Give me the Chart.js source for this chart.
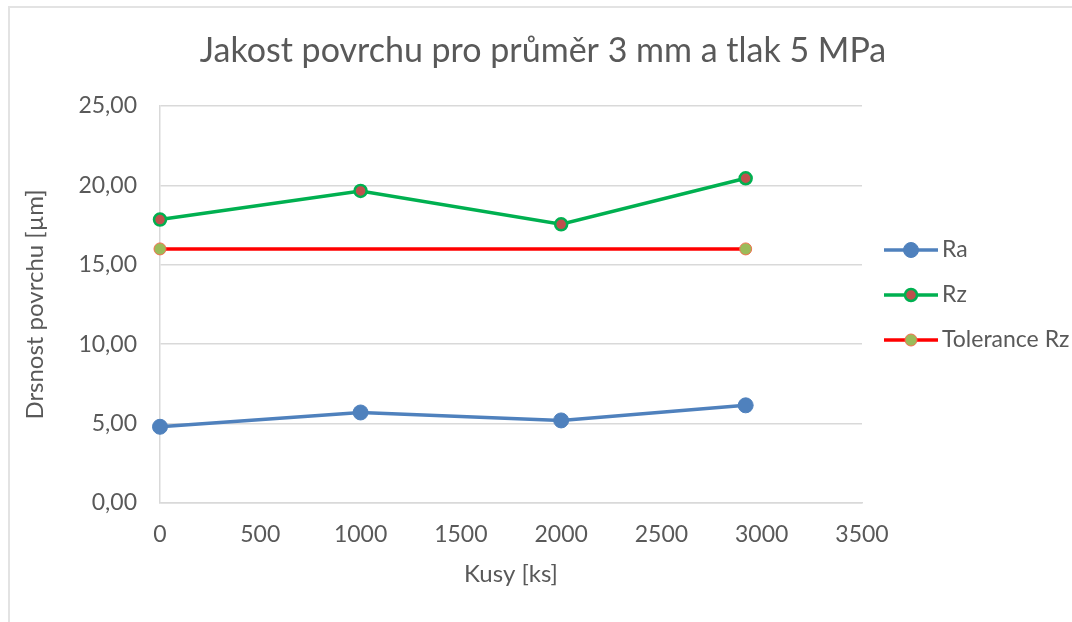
<!DOCTYPE html>
<html>
<head>
<meta charset="utf-8">
<script src="https://cdn.jsdelivr.net/npm/chart.js@4/dist/chart.umd.min.js"></script>
<style>
	html, body { margin: 0; padding: 0; background: #fff; }
	.frame { position: absolute; left: 8px; top: 6px; width: 1100px; height: 700px; border-left: 2px solid #e3e3e3; border-top: 2px solid #e3e3e3; }
	.wrap { position: absolute; left: 0; top: 0; width: 1072px; height: 622px; }
</style>
</head>
<body>
<div class="frame"></div>
<div class="wrap"><canvas id="chart" width="1072" height="622"></canvas></div>
<script>
var kusy = [0, 1000, 2000, 2920];
var ra = [4.80, 5.70, 5.20, 6.15];
var rz = [17.85, 19.65, 17.55, 20.45];
var toleranceKusy = [0, 2920];
var toleranceRz = [16.0, 16.0];
var xTicks = [0, 500, 1000, 1500, 2000, 2500, 3000, 3500];
var yTicks = [0, 5, 10, 15, 20, 25];

var textColor = '#595959';
var gridColor = '#d9d9d9';
var fontName = 'Lato, Calibri, "Open Sans", sans-serif';

function toPoints(xs, ys) {
	var pts = [];
	for (var i = 0; i < xs.length; i++) {
		pts.push({ x: xs[i], y: ys[i] });
	}
	return pts;
}

// title and legend drawn by hand, Excel style
var excelDecor = {
	id: 'excelDecor',
	afterDraw: function (chart) {
		var ctx = chart.ctx;
		ctx.save();
		ctx.fillStyle = textColor;
		ctx.font = '34px ' + fontName;
		ctx.textAlign = 'center';
		ctx.textBaseline = 'middle';
		ctx.fillText('Jakost povrchu pro průměr 3 mm a tlak 5 MPa', 543, 51);

		var rows = [250, 295, 340];
		ctx.font = '23px ' + fontName;
		ctx.textAlign = 'left';
		for (var i = 0; i < chart.data.datasets.length; i++) {
			var ds = chart.data.datasets[i];
			var y = rows[i];
			ctx.strokeStyle = ds.borderColor;
			ctx.lineWidth = 3.5;
			ctx.beginPath();
			ctx.moveTo(884, y);
			ctx.lineTo(938, y);
			ctx.stroke();
			ctx.beginPath();
			ctx.arc(911, y, ds.pointRadius, 0, Math.PI * 2);
			ctx.fillStyle = ds.pointBackgroundColor;
			ctx.fill();
			ctx.lineWidth = ds.pointBorderWidth;
			ctx.strokeStyle = ds.pointBorderColor;
			ctx.stroke();
			ctx.fillStyle = textColor;
			ctx.fillText(ds.label, 942, y);
		}
		ctx.restore();
	}
};

var ctx = document.getElementById('chart').getContext('2d');
var chart = new Chart(ctx, {
	type: 'scatter',
	data: {
		datasets: [{
			label: 'Ra',
			data: toPoints(kusy, ra),
			showLine: true,
			clip: false,
			borderColor: '#4f81bd',
			borderWidth: 3.5,
			pointRadius: 7.5,
			pointBackgroundColor: '#4f81bd',
			pointBorderColor: '#4f81bd',
			pointBorderWidth: 1
		}, {
			label: 'Rz',
			data: toPoints(kusy, rz),
			showLine: true,
			clip: false,
			borderColor: '#00b050',
			borderWidth: 3.5,
			pointRadius: 6,
			pointBackgroundColor: '#c0504d',
			pointBorderColor: '#00b050',
			pointBorderWidth: 2.5
		}, {
			label: 'Tolerance Rz',
			data: toPoints(toleranceKusy, toleranceRz),
			showLine: true,
			clip: false,
			borderColor: '#ff0000',
			borderWidth: 3.5,
			pointRadius: 6,
			pointBackgroundColor: '#9bbb59',
			pointBorderColor: '#f0704d',
			pointBorderWidth: 1
		}]
	},
	options: {
		responsive: false,
		animation: false,
		layout: { padding: { left: 0, top: 106, right: 210, bottom: 0 } },
		plugins: {
			legend: { display: false },
			title: { display: false },
			tooltip: { enabled: false }
		},
		scales: {
			x: {
				type: 'linear',
				min: 0,
				max: 3500,
				afterBuildTicks: function (axis) {
					axis.ticks = xTicks.map(function (v) { return { value: v }; });
				},
				afterFit: function (axis) { axis.height = 119; },
				grid: { display: false, drawTicks: false },
				border: { color: gridColor, width: 1.5 },
				ticks: {
					color: textColor,
					font: { family: fontName, size: 23 },
					padding: 18,
					maxRotation: 0,
					callback: function (v) { return String(v); }
				},
				title: {
					display: true,
					text: 'Kusy [ks]',
					color: textColor,
					font: { family: fontName, size: 24 },
					padding: { top: 0, bottom: 33 }
				}
			},
			y: {
				type: 'linear',
				min: 0,
				max: 25,
				afterBuildTicks: function (axis) {
					axis.ticks = yTicks.map(function (v) { return { value: v }; });
				},
				afterFit: function (axis) { axis.width = 160; },
				grid: { color: gridColor, lineWidth: 1.5, drawTicks: false },
				border: { color: gridColor, width: 1.5 },
				ticks: {
					color: textColor,
					font: { family: fontName, size: 23 },
					padding: 23,
					callback: function (v) { return v.toFixed(2).replace('.', ','); }
				},
				title: {
					display: true,
					text: 'Drsnost povrchu [µm]',
					color: textColor,
					font: { family: fontName, size: 24 },
					padding: { top: 21, bottom: 0 }
				}
			}
		}
	},
	plugins: [excelDecor]
});
</script>
</body>
</html>
